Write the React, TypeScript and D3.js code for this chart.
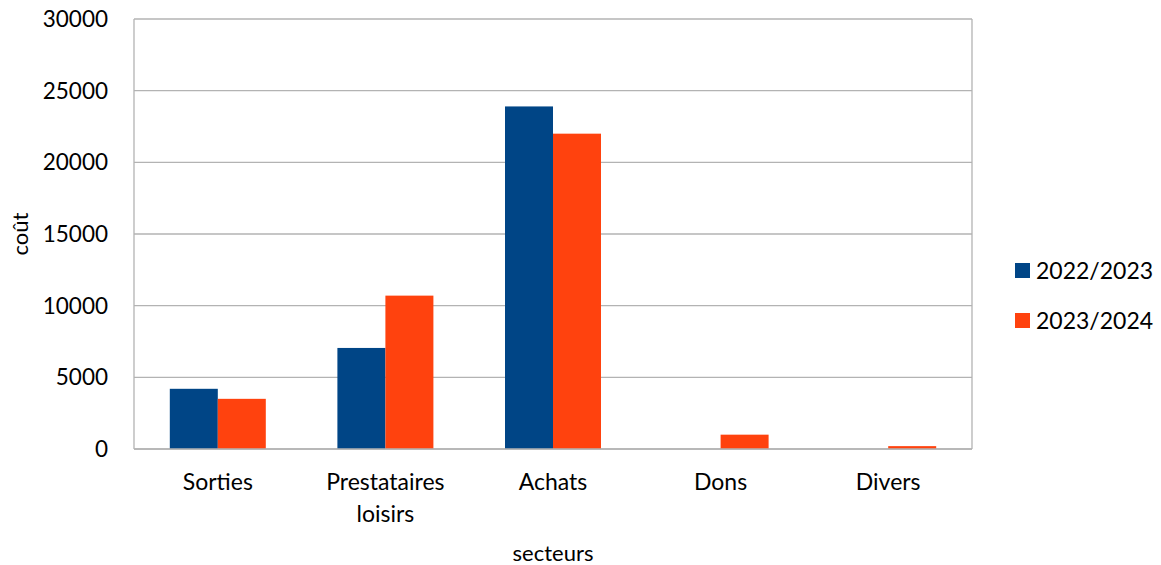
import React from 'react'
import { scaleBand, scaleLinear } from 'd3'

const categories = [['Sorties'], ['Prestataires', 'loisirs'], ['Achats'], ['Dons'], ['Divers']]
const seriesNames = ['2022/2023', '2023/2024']
const values2022 = [4200, 7050, 23900, 0, 0]
const values2023 = [3500, 10700, 22000, 1000, 200]
const yTicks = [0, 5000, 10000, 15000, 20000, 25000, 30000]
const colors = ['#004586', '#ff420e']

const W = 1161
const H = 565
const M = { left: 134, top: 19, right: 972, bottom: 449 }
const FONT = 'Lato, Carlito, sans-serif'

export default function App(): JSX.Element {
  const x = scaleBand<number>()
    .domain(categories.map((_c, i) => i))
    .range([M.left, M.right])
  const inner = scaleBand<number>().domain([0, 1]).range([0, 96])
  const y = scaleLinear().domain([0, 30000]).range([M.bottom, M.top])
  const series = [values2022, values2023]

  return (
    <svg width={W} height={H} style={{ position: 'absolute', left: 0, top: 0 }}>
      <rect width={W} height={H} fill="#fff" />
      {yTicks.map((t) => (
        <g key={t}>
          <line x1={M.left} x2={M.right} y1={y(t)} y2={y(t)} stroke="#b3b3b3" strokeWidth={1.3} />
          <text
            x={108}
            y={y(t)}
            dy="0.36em"
            textAnchor="end"
            fontFamily={FONT}
            fontSize={22.5}
            fill="#000"
          >
            {t}
          </text>
        </g>
      ))}
      <line x1={M.left} x2={M.left} y1={M.top} y2={M.bottom} stroke="#b3b3b3" strokeWidth={1.3} />
      <line x1={M.right} x2={M.right} y1={M.top} y2={M.bottom} stroke="#b3b3b3" strokeWidth={1.3} />
      {series.map((vals, s) =>
        vals.map((v, i) => {
          const cx = (x(i) ?? 0) + x.bandwidth() / 2 - 48
          return (
            <rect
              key={`${s}-${i}`}
              x={cx + (inner(s) ?? 0)}
              y={y(v)}
              width={inner.bandwidth()}
              height={M.bottom - y(v)}
              fill={colors[s]}
            />
          )
        })
      )}
      <line x1={M.left} x2={M.right} y1={M.bottom} y2={M.bottom} stroke="#b3b3b3" strokeWidth={1.3} />
      {categories.map((lines, i) => (
        <text
          key={i}
          x={(x(i) ?? 0) + x.bandwidth() / 2}
          y={490}
          textAnchor="middle"
          fontFamily={FONT}
          fontSize={23}
          fill="#000"
        >
          {lines.map((l, j) => (
            <tspan key={j} x={(x(i) ?? 0) + x.bandwidth() / 2} dy={j === 0 ? 0 : 32}>
              {l}
            </tspan>
          ))}
        </text>
      ))}
      <text x={553} y={561} textAnchor="middle" fontFamily={FONT} fontSize={22} fill="#000">
        secteurs
      </text>
      <text
        transform={`translate(28,234) rotate(-90)`}
        textAnchor="middle"
        fontFamily={FONT}
        fontSize={22}
        fill="#000"
      >
        coût
      </text>
      {seriesNames.map((n, s) => (
        <g key={n} transform={`translate(1015,${263 + s * 50})`}>
          <rect width={15} height={15} fill={colors[s]} />
          <text x={21} y={15.5} fontFamily={FONT} fontSize={23} fill="#000">
            {n}
          </text>
        </g>
      ))}
    </svg>
  )
}
